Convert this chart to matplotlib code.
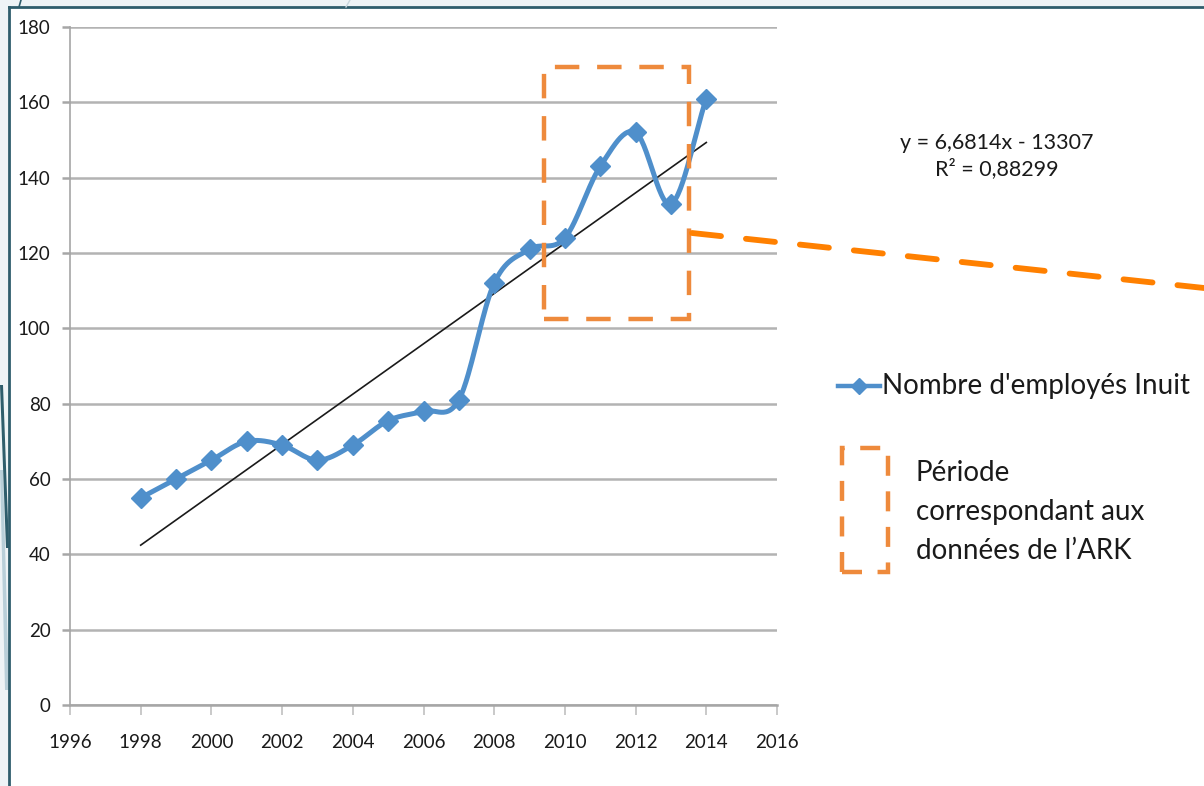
import numpy as np
import matplotlib
matplotlib.use("Agg")
import matplotlib.pyplot as plt
from matplotlib.patches import Rectangle, Polygon
from matplotlib.lines import Line2D
from matplotlib import font_manager

years = [1998, 1999, 2000, 2001, 2002, 2003, 2004, 2005, 2006, 2007,
         2008, 2009, 2010, 2011, 2012, 2013, 2014]
employes = [55, 60, 65, 70, 69, 65, 69, 75.5, 78, 81,
            112, 121, 124, 143, 152, 133, 161]
trend_slope = 6.6814
trend_intercept = -13307
x_ticks = [1996, 1998, 2000, 2002, 2004, 2006, 2008, 2010, 2012, 2014, 2016]
y_ticks = [0, 20, 40, 60, 80, 100, 120, 140, 160, 180]
ark_period = (2009.4, 2013.5)
ark_values = (102.5, 169.5)
series_label = "Nombre d'employés Inuit"
period_label = "Période\ncorrespondant aux\ndonnées de l\u2019ARK"
eq_label = "y = 6,6814x - 13307\nR² = 0,88299"

names = {f.name for f in font_manager.fontManager.ttflist}
tick_font = "Liberation Sans Narrow" if "Liberation Sans Narrow" in names else "Lato"
text_font = "Lato"

BLUE = "#4f8fcb"
ORANGE_BOX = "#ee8a3c"
ORANGE = "#ff8000"
W, H = 1204, 786


def fx(px):
    return px / W


def fy(py):
    return 1 - py / H


def catmull_rom(xs, ys, n=30):
    xs = np.asarray(xs, float)
    ys = np.asarray(ys, float)
    px = np.concatenate([[2 * xs[0] - xs[1]], xs, [2 * xs[-1] - xs[-2]]])
    py = np.concatenate([[2 * ys[0] - ys[1]], ys, [2 * ys[-1] - ys[-2]]])
    ox, oy = [], []
    t = np.linspace(0, 1, n, endpoint=False)
    for i in range(1, len(px) - 2):
        for arr, out in ((px, ox), (py, oy)):
            p0, p1, p2, p3 = arr[i - 1], arr[i], arr[i + 1], arr[i + 2]
            out.extend(0.5 * ((2 * p1) + (-p0 + p2) * t
                              + (2 * p0 - 5 * p1 + 4 * p2 - p3) * t ** 2
                              + (-p0 + 3 * p1 - 3 * p2 + p3) * t ** 3))
    ox.append(xs[-1])
    oy.append(ys[-1])
    return np.array(ox), np.array(oy)


fig = plt.figure(figsize=(12.04, 7.86), dpi=100)
fig.patch.set_facecolor("#eef3f6")

# white panel with dark border (slide frame)
fig.patches.append(Rectangle((fx(9), 0), 1 - fx(9), fy(7), transform=fig.transFigure,
                             facecolor="white", edgecolor="none", zorder=-5))
# decorative shapes on the left edge (slide background)
fig.patches.append(Polygon([(fx(0), fy(470)), (fx(3), fy(470)), (fx(9), fy(690)),
                            (fx(5), fy(690))], closed=True, transform=fig.transFigure,
                           facecolor="#b9cfd9", edgecolor="none", zorder=-4))
fig.patches.append(Polygon([(fx(0), fy(385)), (fx(3), fy(385)), (fx(9), fy(548)),
                            (fx(6), fy(548))], closed=True, transform=fig.transFigure,
                           facecolor="#2f5d6c", edgecolor="none", zorder=-4))
fig.add_artist(Line2D([fx(9), 1], [fy(7), fy(7)], transform=fig.transFigure,
                      color="#2f5d6c", lw=2, zorder=-1))
fig.add_artist(Line2D([fx(9), fx(9)], [0, fy(7)], transform=fig.transFigure,
                      color="#2f5d6c", lw=2, zorder=-1))
fig.add_artist(Line2D([fx(21), fx(19)], [fy(0), fy(7)], transform=fig.transFigure,
                      color="#2f5d6c", lw=1.2, zorder=-1))
fig.add_artist(Line2D([fx(350), fx(346)], [fy(0), fy(7)], transform=fig.transFigure,
                      color="#c8d6dd", lw=1, zorder=-1))

ax = fig.add_axes([fx(70), fy(705), fx(777) - fx(70), fy(27) - fy(705)])
ax.set_zorder(1)
ax.set_facecolor("none")
ax.set_xlim(1996, 2016)
ax.set_ylim(0, 180)
ax.set_xticks(x_ticks)
ax.set_yticks(y_ticks)
ax.set_xticklabels([str(v) for v in x_ticks], fontfamily=tick_font, fontsize=13.5)
ax.set_yticklabels([str(v) for v in y_ticks], fontfamily=tick_font, fontsize=13.5)
for s in ["top", "right"]:
    ax.spines[s].set_visible(False)
ax.spines["left"].set_color("#a6a6a6")
ax.spines["bottom"].set_color("#a6a6a6")
ax.spines["left"].set_linewidth(1.2)
ax.spines["bottom"].set_linewidth(1.8)
ax.tick_params(axis="y", length=6, color="#a6a6a6", width=1.8, pad=8, labelcolor="#1a1a1a")
ax.tick_params(axis="x", length=7, color="#c0c0c0", width=1.2, pad=14, labelcolor="#1a1a1a")
ax.grid(axis="y", color="#b3b3b3", lw=1.8, zorder=0)
ax.set_axisbelow(True)

# trendline
tx = np.array([years[0], years[-1]], float)
ax.plot(tx, trend_slope * tx + trend_intercept, color="#1a1a1a", lw=1.2, zorder=3)

# smoothed series
sx, sy = catmull_rom(years, employes)
ax.plot(sx, sy, color=BLUE, lw=3.6, zorder=4, solid_capstyle="round")
ax.plot(years, employes, linestyle="none", marker="D", markersize=10,
        color=BLUE, zorder=5)

# ARK period box
ax.add_patch(Rectangle((ark_period[0], ark_values[0]), ark_period[1] - ark_period[0],
                       ark_values[1] - ark_values[0], fill=False, edgecolor=ORANGE_BOX,
                       lw=3.2, linestyle=(0, (5.5, 4)), zorder=6, clip_on=False))

# long dashed connector
fig.add_artist(Line2D([fx(692), 1.0], [fy(233), fy(288)],
                      transform=fig.transFigure, color=ORANGE, lw=4.2,
                      linestyle=(0, (5, 4.3)), solid_capstyle="round",
                      dash_capstyle="round", zorder=3))

# equation text
fig.text(fx(997), fy(156), eq_label, ha="center", va="center",
         fontfamily=text_font, fontsize=15.5, color="#1a1a1a", linespacing=1.3)

# legend entry: series
fig.add_artist(Line2D([fx(838), fx(880)], [fy(386), fy(386)],
                      transform=fig.transFigure, color=BLUE, lw=3.2))
fig.add_artist(Line2D([fx(859)], [fy(386)], transform=fig.transFigure,
                      marker="D", markersize=8, color=BLUE, linestyle="none"))
fig.text(fx(882), fy(386), series_label, ha="left", va="center",
         fontfamily=text_font, fontsize=20, color="#1a1a1a")

# legend entry: period box
fig.patches.append(Rectangle((fx(842), fy(572)), fx(888) - fx(842), fy(448) - fy(572),
                             transform=fig.transFigure, fill=False, edgecolor=ORANGE_BOX,
                             lw=3.2, linestyle=(0, (4.5, 3.5))))
fig.text(fx(916), fy(512), period_label, ha="left", va="center",
         fontfamily=text_font, fontsize=20, color="#1a1a1a", linespacing=1.6)

fig.savefig("out.png", dpi=100, facecolor=fig.get_facecolor())
